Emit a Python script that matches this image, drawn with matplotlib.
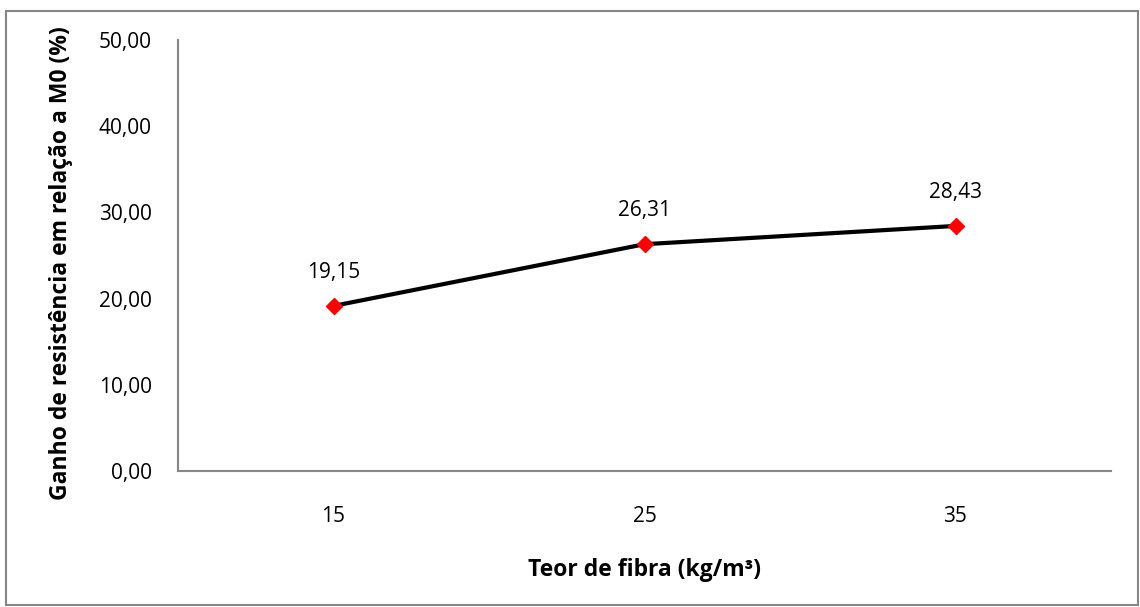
import matplotlib.pyplot as plt
from matplotlib.patches import Rectangle

# dados
teor = ['15', '25', '35']
ganho = [19.15, 26.31, 28.43]
yticks = [0, 10, 20, 30, 40, 50]

plt.rcParams['font.family'] = ['Open Sans', 'DejaVu Sans']

fig = plt.figure(figsize=(11.4, 6.07), dpi=100)
W, H = 1140, 607
ax = fig.add_axes([178 / W, 1 - 471 / H, (1111 - 178) / W, (471 - 40) / H])

x = range(len(teor))
ax.plot(x, ganho, color='black', lw=3, zorder=2)
ax.plot(x, ganho, 'D', color='#ff0000', markersize=8, zorder=3, clip_on=False)
for xi, v in zip(x, ganho):
    ax.annotate(f'{v:.2f}'.replace('.', ','), (xi, v), xytext=(0, 24),
                textcoords='offset points', ha='center', va='center', fontsize=15)

ax.set_xlim(-0.5, 2.5)
ax.set_ylim(0, 50)
ax.set_xticks(list(x))
ax.set_xticklabels(teor)
ax.set_yticks(yticks)
ax.set_yticklabels([f'{t:.2f}'.replace('.', ',') for t in yticks])
ax.tick_params(length=0, labelsize=15)
ax.tick_params(axis='y', pad=19)
ax.tick_params(axis='x', pad=25)
for s in ['top', 'right']:
    ax.spines[s].set_visible(False)
for s in ['left', 'bottom']:
    ax.spines[s].set_color('#868686')
    ax.spines[s].set_linewidth(1.5)

ax.set_xlabel('Teor de fibra (kg/m³)', fontsize=16.5, fontweight='bold', va='center')
ax.set_ylabel('Ganho de resistência em relação a M0 (%)', fontsize=16.5,
              fontweight='bold', va='center')
ax.xaxis.set_label_coords(0.5, (471 - 570) / 431)
ax.yaxis.set_label_coords((61 - 178) / 933, (471 - 263.5) / 431)

# borda externa
fig.patches.append(Rectangle((6 / W, 2 / H), 1132 / W, 1 - 13 / H,
                             transform=fig.transFigure, fill=False,
                             edgecolor='#868686', lw=1.5))

fig.savefig('out.png', dpi=100)
